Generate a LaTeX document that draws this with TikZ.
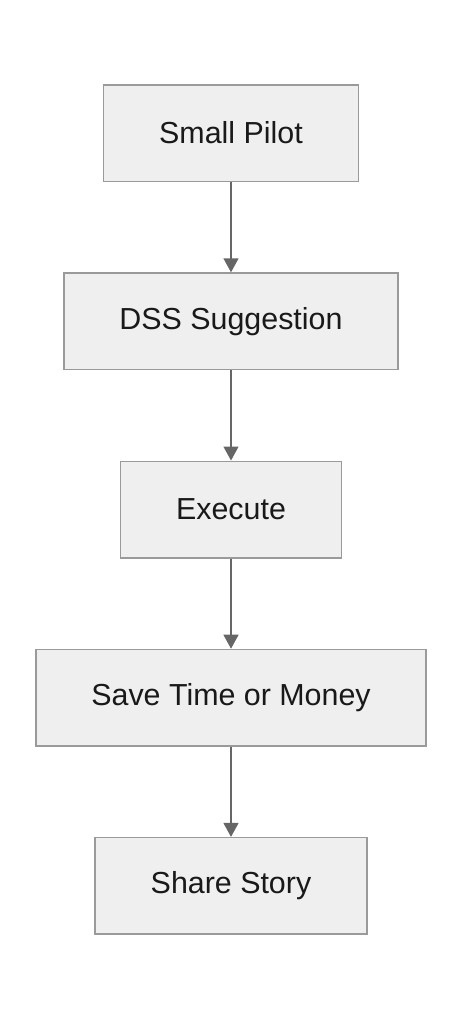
\documentclass[tikz,border=0pt]{standalone}
\usepackage{fontspec}
\setmainfont{Liberation Sans}
\usetikzlibrary{matrix,arrows.meta}
\definecolor{boxfill}{HTML}{EFEFEF}
\definecolor{boxline}{HTML}{9A9A9A}
\definecolor{arrowgray}{HTML}{666666}
\begin{document}
\begin{tikzpicture}[x=1pt,y=1pt,
    stepbox/.style={draw=boxline, fill=boxfill, line width=1.5pt, minimum height=96.5pt,
      inner xsep=55.5pt, text=black!90, font=\fontsize{30.4}{36}\selectfont},
    flow/.style={draw=arrowgray, line width=1.4pt, -{Triangle[length=14pt,width=15pt]}}]
      \useasboundingbox (0,0) rectangle (462,-1020);
      \node[matrix of nodes, ampersand replacement=\&, row sep=90.2pt, nodes={stepbox}] (flowchart) at (231,-509.5) {
        |(pilot)| Small Pilot \\
        |(dss)| DSS Suggestion \\
        |(exec)| Execute \\
        |(save)| Save Time or Money \\
        |(share)| Share Story \\
      };
      \draw[flow] (pilot) -- (dss);
      \draw[flow] (dss) -- (exec);
      \draw[flow] (exec) -- (save);
      \draw[flow] (save) -- (share);
\end{tikzpicture}
\end{document}
